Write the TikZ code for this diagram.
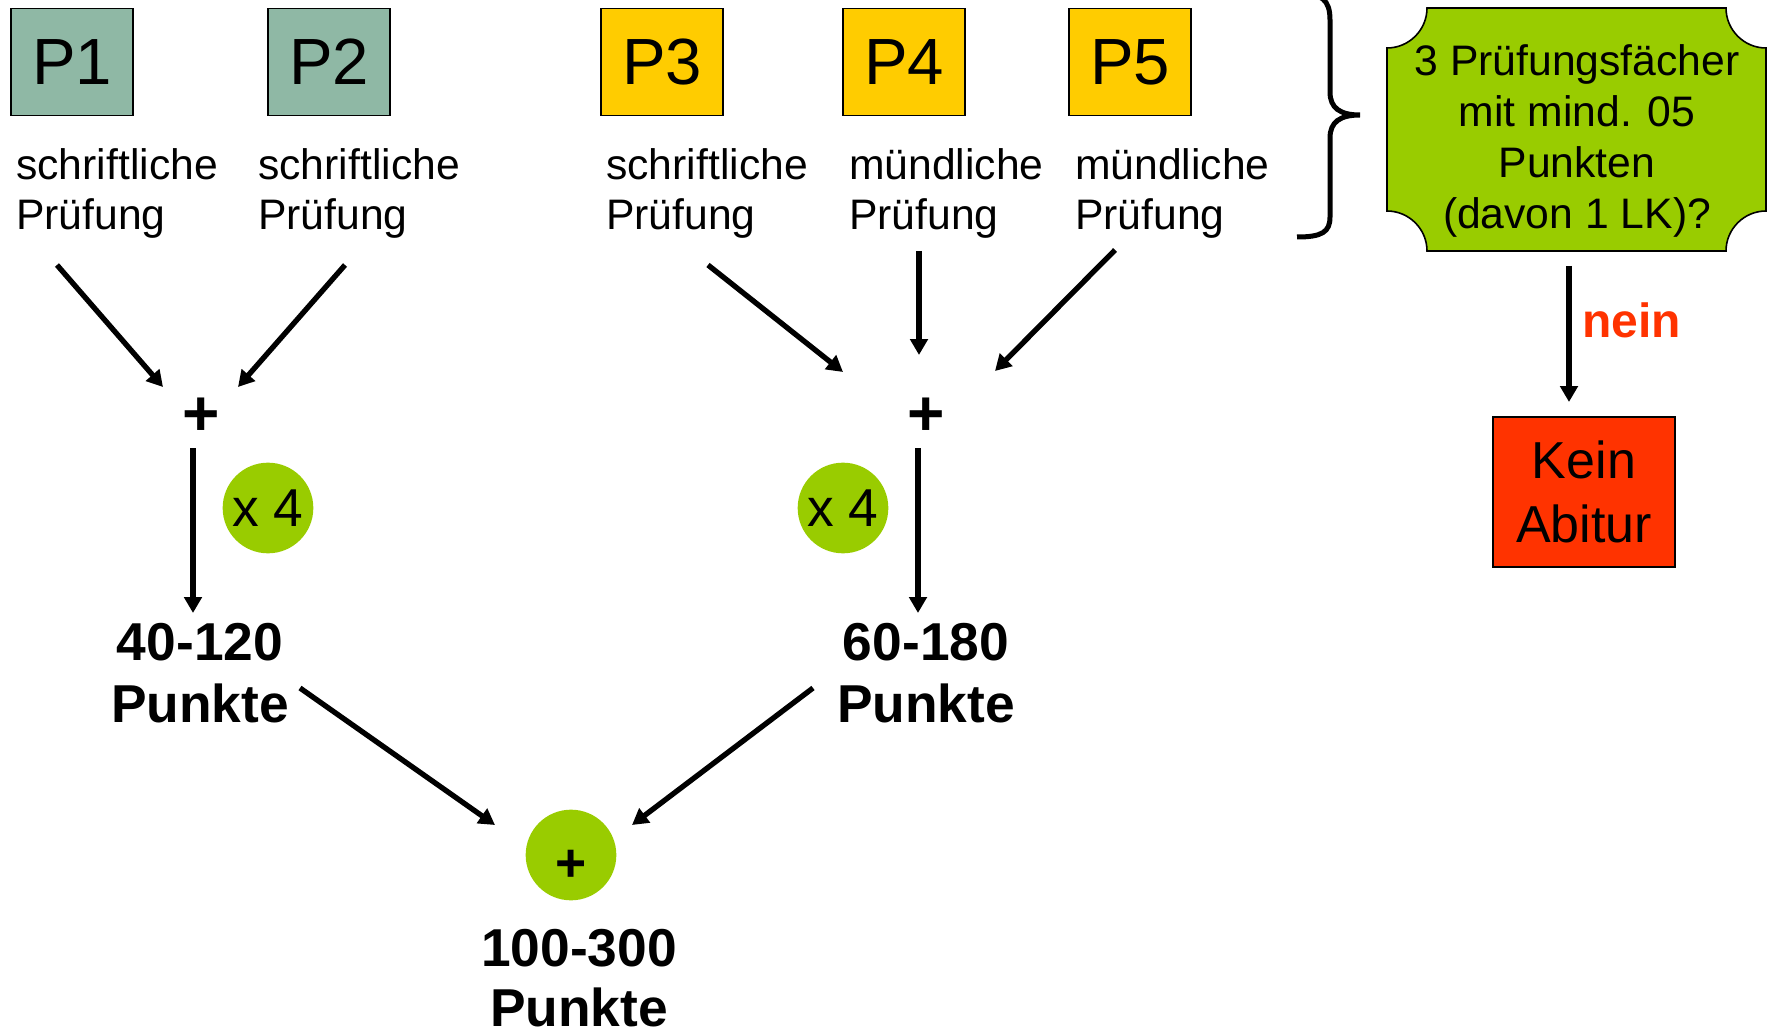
\documentclass[tikz,border=0pt]{standalone}
\usepackage{fontspec}
\setmainfont{Liberation Sans}
\usetikzlibrary{arrows.meta}
\definecolor{pgrey}{RGB}{143,184,165}
\definecolor{pyel}{RGB}{255,204,0}
\definecolor{lgreen}{RGB}{153,204,0}
\definecolor{kred}{RGB}{255,51,0}
\newcommand\mlines[2]{\begin{tabular}[t]{@{}#1@{}}#2\end{tabular}}
\begin{document}
\begin{tikzpicture}[x=0.75pt,y=-0.75pt,
 pboxstyle/.style={draw=black,line width=1.2pt,minimum width=91.5pt,minimum height=80pt,inner sep=0pt,font=\fontsize{49}{58}\selectfont},
 labstyle/.style={anchor=base west,inner sep=0pt,font=\fontsize{32}{37.5}\selectfont},
 arrstyle/.style={line width=4pt,-{Triangle[width=13pt,length=12pt]}},
 plusstyle/.style={inner sep=0pt,font=\bfseries\fontsize{48}{48}\selectfont},
 multstyle/.style={circle,fill=lgreen,minimum size=68pt,inner sep=0pt,font=\fontsize{40}{40}\selectfont},
 rangestyle/.style={anchor=base,inner sep=0pt,font=\bfseries\fontsize{40}{47}\selectfont},
]
\useasboundingbox (0,0) rectangle (1767,1034);
\clip (0,0) rectangle (1767,1034);

% top boxes
\node[pboxstyle,fill=pgrey] (p1) at (72,62) {P1};
\node[pboxstyle,fill=pgrey] (p2) at (329,62) {P2};
\node[pboxstyle,fill=pyel] (p3) at (662,62) {P3};
\node[pboxstyle,fill=pyel] (p4) at (904,62) {P4};
\node[pboxstyle,fill=pyel] (p5) at (1130,62) {P5};

% labels
\node[labstyle] (l1) at (16,180) {\mlines{l}{schriftliche\\Prüfung}};
\node[labstyle] (l2) at (258,180) {\mlines{l}{schriftliche\\Prüfung}};
\node[labstyle] (l3) at (606,180) {\mlines{l}{schriftliche\\Prüfung}};
\node[labstyle] (l4) at (849,180) {\mlines{l}{mündliche\\Prüfung}};
\node[labstyle] (l5) at (1075,180) {\mlines{l}{mündliche\\Prüfung}};

% brace
\draw[line width=3.75pt] (1297,-7) .. controls (1322,-7) and (1330,0) .. (1330,20)
  -- (1330,92) .. controls (1330,108) and (1340,115) .. (1360,115)
  .. controls (1340,115) and (1330,122) .. (1330,138)
  -- (1330,217) .. controls (1330,232) and (1322,237) .. (1297,237);

% condition box
\draw[fill=lgreen,line width=1.2pt] (1427,8) -- (1726,8) .. controls (1726,30) and (1744,48) .. (1766,48)
  -- (1766,211) .. controls (1744,211) and (1726,229) .. (1726,251)
  -- (1427,251) .. controls (1427,229) and (1409,211) .. (1387,211)
  -- (1387,48) .. controls (1409,48) and (1427,30) .. (1427,8) -- cycle;
\node[anchor=base,inner sep=0pt,font=\fontsize{32}{38.25}\selectfont] (q) at (1577,76)
  {\mlines{c}{3 Prüfungsfächer\\mit mind. 05\\Punkten\\(davon 1 LK)?}};

% plus nodes
\node[plusstyle] (s1) at (201,417) {+};
\node[plusstyle] (s2) at (926,417) {+};

% multiplier circles
\node[multstyle] (m1) at (268,508) {x 4};
\node[multstyle] (m2) at (843,508) {x 4};

% ranges
\node[rangestyle] (r1) at (200,660) {\mlines{c}{40-120\\Punkte}};
\node[rangestyle] (r2) at (926,660) {\mlines{c}{60-180\\Punkte}};

% total
\node[circle,fill=lgreen,minimum size=68pt,inner sep=0pt] (t) at (571,855) {};
\node[inner sep=0pt,font=\bfseries\fontsize{40}{40}\selectfont] (tp) at (571,866) {+};
\node[anchor=base,inner sep=0pt,font=\bfseries\fontsize{40}{45}\selectfont] (r3) at (579,966) {\mlines{c}{100-300\\Punkte}};

% kein abitur
\node[draw=black,line width=1.2pt,fill=kred,minimum width=136.5pt,minimum height=112.5pt,inner sep=0pt,
  font=\fontsize{39}{48}\selectfont] (k) at (1584,492) {\raisebox{-4.5pt}[\height][\depth]{\mlines{c}{Kein\\Abitur}}};
\node[anchor=base west,inner sep=0pt,text=kred,font=\bfseries\fontsize{36}{36}\selectfont] (nein) at (1582,337) {nein};

% arrow coordinates
\coordinate (a1s) at (57,265);   \coordinate (a1e) at (163,387);
\coordinate (a2s) at (345,265);  \coordinate (a2e) at (238,387);
\coordinate (a3s) at (193,448);  \coordinate (a3e) at (193,613);
\coordinate (a4s) at (708,265);  \coordinate (a4e) at (843,372);
\coordinate (a5s) at (919,251);  \coordinate (a5e) at (919,355);
\coordinate (a6s) at (1115,250); \coordinate (a6e) at (995,371);
\coordinate (a7s) at (918,448);  \coordinate (a7e) at (918,613);
\coordinate (a8s) at (300,688);  \coordinate (a8e) at (495,825);
\coordinate (a9s) at (813,688);  \coordinate (a9e) at (632,825);
\coordinate (a10s) at (1569,266); \coordinate (a10e) at (1569,402);

\draw[arrstyle] (a1s) -- (a1e);
\draw[arrstyle] (a2s) -- (a2e);
\draw[arrstyle] (a3s) -- (a3e);
\draw[arrstyle] (a4s) -- (a4e);
\draw[arrstyle] (a5s) -- (a5e);
\draw[arrstyle] (a6s) -- (a6e);
\draw[arrstyle] (a7s) -- (a7e);
\draw[arrstyle] (a8s) -- (a8e);
\draw[arrstyle] (a9s) -- (a9e);
\draw[arrstyle] (a10s) -- (a10e);
\end{tikzpicture}
\end{document}
